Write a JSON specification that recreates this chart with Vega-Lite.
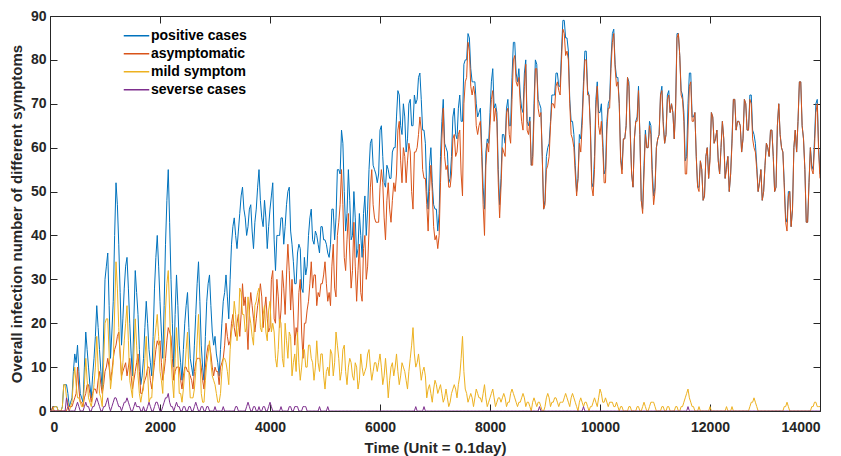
{
"$schema": "https://vega.github.io/schema/vega-lite/v6.json",
"width": 770, "height": 395,
"autosize": {"type": "none"},
"padding": {"left": 50, "top": 16, "right": 21, "bottom": 45},
"background": "white",
"config": {"view": {"stroke": "#262626", "strokeWidth": 1},
 "axis": {"grid": false, "domain": false, "ticks": true, "zindex": 1, "labelFont": "Liberation Sans", "labelFontWeight": "bold", "labelFontSize": 14, "labelColor": "#262626", "titleFont": "Liberation Sans", "titleFontWeight": "bold", "titleFontSize": 15, "titleColor": "#262626", "tickColor": "#262626", "tickWidth": 1, "tickSize": 7, "offset": -7, "format": "d"}},
"data": {"values": [
{"t":0,"p":0,"a":0,"m":0,"s":0},{"t":50,"p":1,"a":1,"m":0,"s":0},{"t":100,"p":1,"a":0,"m":1,"s":0},{"t":150,"p":0,"a":0,"m":0,"s":0},{"t":200,"p":0,"a":0,"m":0,"s":0},
{"t":250,"p":6,"a":0,"m":6,"s":0},{"t":300,"p":6,"a":0,"m":3,"s":3},{"t":350,"p":1,"a":1,"m":0,"s":0},{"t":400,"p":3,"a":1,"m":2,"s":0},{"t":450,"p":13,"a":3,"m":10,"s":0},
{"t":500,"p":15,"a":10,"m":3,"s":2},{"t":550,"p":4,"a":2,"m":2,"s":0},{"t":600,"p":2,"a":1,"m":1,"s":0},{"t":650,"p":18,"a":4,"m":12,"s":2},{"t":700,"p":10,"a":6,"m":3,"s":1},
{"t":750,"p":3,"a":2,"m":1,"s":0},{"t":800,"p":12,"a":5,"m":6,"s":1},{"t":850,"p":24,"a":4,"m":17,"s":3},{"t":900,"p":14,"a":9,"m":4,"s":1},{"t":950,"p":5,"a":4,"m":1,"s":0},
{"t":1000,"p":30,"a":9,"m":20,"s":1},{"t":1050,"p":36,"a":12,"m":21,"s":3},{"t":1100,"p":12,"a":7,"m":5,"s":0},{"t":1150,"p":25,"a":12,"m":11,"s":2},{"t":1200,"p":52,"a":15,"m":34,"s":3},
{"t":1250,"p":38,"a":18,"m":19,"s":1},{"t":1300,"p":15,"a":8,"m":7,"s":0},{"t":1350,"p":28,"a":10,"m":16,"s":2},{"t":1400,"p":35,"a":8,"m":24,"s":3},{"t":1450,"p":20,"a":12,"m":7,"s":1},
{"t":1500,"p":8,"a":5,"m":3,"s":0},{"t":1550,"p":32,"a":9,"m":21,"s":2},{"t":1600,"p":22,"a":13,"m":8,"s":1},{"t":1650,"p":6,"a":4,"m":2,"s":0},{"t":1700,"p":12,"a":6,"m":5,"s":1},
{"t":1750,"p":25,"a":8,"m":17,"s":0},{"t":1800,"p":14,"a":10,"m":2,"s":2},{"t":1850,"p":8,"a":5,"m":3,"s":0},{"t":1900,"p":28,"a":11,"m":16,"s":1},{"t":1950,"p":40,"a":16,"m":22,"s":2},
{"t":2000,"p":25,"a":16,"m":9,"s":0},{"t":2050,"p":12,"a":7,"m":4,"s":1},{"t":2100,"p":38,"a":12,"m":23,"s":3},{"t":2150,"p":55,"a":19,"m":32,"s":4},{"t":2200,"p":30,"a":17,"m":12,"s":1},
{"t":2250,"p":10,"a":7,"m":3,"s":0},{"t":2300,"p":31,"a":10,"m":19,"s":2},{"t":2350,"p":15,"a":10,"m":4,"s":1},{"t":2400,"p":7,"a":5,"m":2,"s":0},{"t":2450,"p":20,"a":10,"m":9,"s":1},
{"t":2500,"p":27,"a":9,"m":18,"s":0},{"t":2550,"p":12,"a":8,"m":3,"s":1},{"t":2600,"p":8,"a":5,"m":3,"s":0},{"t":2650,"p":22,"a":11,"m":9,"s":2},{"t":2700,"p":34,"a":12,"m":22,"s":0},
{"t":2750,"p":15,"a":10,"m":4,"s":1},{"t":2800,"p":7,"a":5,"m":2,"s":0},{"t":2850,"p":25,"a":13,"m":11,"s":1},{"t":2900,"p":31,"a":15,"m":16,"s":0},{"t":2950,"p":18,"a":10,"m":8,"s":0},
{"t":3000,"p":17,"a":10,"m":6,"s":1},{"t":3050,"p":11,"a":9,"m":2,"s":0},{"t":3100,"p":14,"a":10,"m":4,"s":0},{"t":3150,"p":25,"a":12,"m":12,"s":1},{"t":3200,"p":31,"a":20,"m":11,"s":0},
{"t":3250,"p":21,"a":15,"m":6,"s":0},{"t":3300,"p":38,"a":20,"m":18,"s":0},{"t":3350,"p":44,"a":19,"m":25,"s":0},{"t":3400,"p":37,"a":20,"m":16,"s":1},{"t":3450,"p":45,"a":17,"m":28,"s":0},
{"t":3500,"p":51,"a":29,"m":22,"s":0},{"t":3550,"p":44,"a":26,"m":18,"s":0},{"t":3600,"p":42,"a":14,"m":26,"s":2},{"t":3650,"p":47,"a":27,"m":20,"s":0},{"t":3700,"p":37,"a":21,"m":15,"s":1},
{"t":3750,"p":46,"a":21,"m":25,"s":0},{"t":3800,"p":55,"a":26,"m":28,"s":1},{"t":3850,"p":44,"a":26,"m":18,"s":0},{"t":3900,"p":48,"a":23,"m":24,"s":1},{"t":3950,"p":37,"a":21,"m":16,"s":0},
{"t":4000,"p":46,"a":19,"m":25,"s":2},{"t":4050,"p":52,"a":32,"m":20,"s":0},{"t":4100,"p":32,"a":20,"m":12,"s":0},{"t":4150,"p":40,"a":26,"m":14,"s":0},{"t":4200,"p":44,"a":23,"m":20,"s":1},
{"t":4250,"p":38,"a":28,"m":10,"s":0},{"t":4300,"p":47,"a":31,"m":16,"s":0},{"t":4350,"p":51,"a":32,"m":18,"s":1},{"t":4400,"p":38,"a":30,"m":8,"s":0},{"t":4450,"p":29,"a":15,"m":13,"s":1},
{"t":4500,"p":36,"a":17,"m":18,"s":1},{"t":4550,"p":37,"a":30,"m":7,"s":0},{"t":4600,"p":27,"a":12,"m":14,"s":1},{"t":4650,"p":31,"a":20,"m":10,"s":1},{"t":4700,"p":40,"a":25,"m":15,"s":0},
{"t":4750,"p":46,"a":34,"m":12,"s":0},{"t":4800,"p":38,"a":31,"m":7,"s":0},{"t":4850,"p":40,"a":24,"m":16,"s":0},{"t":4900,"p":36,"a":26,"m":9,"s":1},{"t":4950,"p":42,"a":29,"m":13,"s":0},
{"t":5000,"p":39,"a":34,"m":5,"s":0},{"t":5050,"p":36,"a":25,"m":10,"s":1},{"t":5100,"p":38,"a":24,"m":14,"s":0},{"t":5150,"p":46,"a":38,"m":8,"s":0},{"t":5200,"p":44,"a":26,"m":18,"s":0},
{"t":5250,"p":55,"a":43,"m":12,"s":0},{"t":5300,"p":64,"a":55,"m":9,"s":0},{"t":5350,"p":50,"a":35,"m":15,"s":0},{"t":5400,"p":45,"a":39,"m":6,"s":0},{"t":5450,"p":48,"a":36,"m":12,"s":0},
{"t":5500,"p":40,"a":32,"m":8,"s":0},{"t":5550,"p":44,"a":33,"m":11,"s":0},{"t":5600,"p":37,"a":32,"m":5,"s":0},{"t":5650,"p":40,"a":27,"m":13,"s":0},{"t":5700,"p":45,"a":37,"m":8,"s":0},
{"t":5750,"p":40,"a":30,"m":10,"s":0},{"t":5800,"p":55,"a":41,"m":14,"s":0},{"t":5850,"p":62,"a":55,"m":7,"s":0},{"t":5900,"p":55,"a":44,"m":11,"s":0},{"t":5950,"p":52,"a":43,"m":9,"s":0},
{"t":6000,"p":64,"a":51,"m":13,"s":0},{"t":6050,"p":58,"a":52,"m":6,"s":0},{"t":6100,"p":51,"a":39,"m":12,"s":0},{"t":6150,"p":55,"a":52,"m":3,"s":0},{"t":6200,"p":53,"a":43,"m":10,"s":0},
{"t":6250,"p":60,"a":52,"m":8,"s":0},{"t":6300,"p":67,"a":54,"m":13,"s":0},{"t":6350,"p":72,"a":66,"m":6,"s":0},{"t":6400,"p":63,"a":52,"m":11,"s":0},{"t":6450,"p":67,"a":58,"m":9,"s":0},
{"t":6500,"p":62,"a":57,"m":5,"s":0},{"t":6550,"p":71,"a":59,"m":12,"s":0},{"t":6600,"p":65,"a":46,"m":19,"s":0},{"t":6650,"p":70,"a":59,"m":10,"s":1},{"t":6700,"p":76,"a":63,"m":13,"s":0},
{"t":6750,"p":71,"a":64,"m":7,"s":0},{"t":6800,"p":64,"a":53,"m":10,"s":1},{"t":6850,"p":50,"a":47,"m":3,"s":0},{"t":6900,"p":56,"a":50,"m":6,"s":0},{"t":6950,"p":52,"a":50,"m":2,"s":0},
{"t":7000,"p":46,"a":39,"m":7,"s":0},{"t":7050,"p":41,"a":37,"m":4,"s":0},{"t":7100,"p":58,"a":52,"m":6,"s":0},{"t":7150,"p":71,"a":69,"m":2,"s":0},{"t":7200,"p":60,"a":55,"m":5,"s":0},
{"t":7250,"p":52,"a":51,"m":1,"s":0},{"t":7300,"p":58,"a":54,"m":4,"s":0},{"t":7350,"p":69,"a":63,"m":6,"s":0},{"t":7400,"p":62,"a":59,"m":3,"s":0},{"t":7450,"p":72,"a":64,"m":8,"s":0},
{"t":7500,"p":66,"a":49,"m":17,"s":0},{"t":7550,"p":80,"a":75,"m":5,"s":0},{"t":7600,"p":86,"a":84,"m":2,"s":0},{"t":7650,"p":78,"a":74,"m":4,"s":0},{"t":7700,"p":75,"a":74,"m":1,"s":0},
{"t":7750,"p":70,"a":65,"m":5,"s":0},{"t":7800,"p":68,"a":65,"m":3,"s":0},{"t":7850,"p":60,"a":58,"m":2,"s":0},{"t":7900,"p":46,"a":40,"m":6,"s":0},{"t":7950,"p":62,"a":61,"m":1,"s":0},
{"t":8000,"p":68,"a":65,"m":3,"s":0},{"t":8050,"p":78,"a":73,"m":5,"s":0},{"t":8100,"p":70,"a":69,"m":1,"s":0},{"t":8150,"p":55,"a":52,"m":3,"s":0},{"t":8200,"p":53,"a":51,"m":2,"s":0},
{"t":8250,"p":63,"a":59,"m":4,"s":0},{"t":8300,"p":69,"a":68,"m":1,"s":0},{"t":8350,"p":65,"a":63,"m":2,"s":0},{"t":8400,"p":76,"a":71,"m":5,"s":0},{"t":8450,"p":84,"a":81,"m":3,"s":0},
{"t":8500,"p":75,"a":74,"m":1,"s":0},{"t":8550,"p":72,"a":70,"m":2,"s":0},{"t":8600,"p":68,"a":64,"m":4,"s":0},{"t":8650,"p":80,"a":79,"m":1,"s":0},{"t":8700,"p":65,"a":63,"m":2,"s":0},
{"t":8750,"p":56,"a":56,"m":0,"s":0},{"t":8800,"p":70,"a":67,"m":3,"s":0},{"t":8850,"p":79,"a":78,"m":1,"s":0},{"t":8900,"p":70,"a":67,"m":2,"s":1},{"t":8950,"p":58,"a":58,"m":0,"s":0},
{"t":9000,"p":48,"a":47,"m":1,"s":0},{"t":9050,"p":60,"a":56,"m":4,"s":0},{"t":9100,"p":66,"a":65,"m":1,"s":0},{"t":9150,"p":72,"a":70,"m":2,"s":0},{"t":9200,"p":77,"a":74,"m":3,"s":0},
{"t":9250,"p":74,"a":73,"m":1,"s":0},{"t":9300,"p":82,"a":80,"m":2,"s":0},{"t":9350,"p":89,"a":86,"m":3,"s":0},{"t":9400,"p":85,"a":82,"m":3,"s":0},{"t":9450,"p":71,"a":70,"m":1,"s":0},
{"t":9500,"p":66,"a":62,"m":4,"s":0},{"t":9550,"p":56,"a":54,"m":2,"s":0},{"t":9600,"p":53,"a":53,"m":0,"s":0},{"t":9650,"p":62,"a":59,"m":3,"s":0},{"t":9700,"p":75,"a":73,"m":1,"s":1},
{"t":9750,"p":82,"a":80,"m":2,"s":0},{"t":9800,"p":72,"a":72,"m":0,"s":0},{"t":9850,"p":52,"a":51,"m":1,"s":0},{"t":9900,"p":58,"a":55,"m":3,"s":0},{"t":9950,"p":75,"a":74,"m":1,"s":0},
{"t":10000,"p":68,"a":63,"m":5,"s":0},{"t":10050,"p":62,"a":60,"m":2,"s":0},{"t":10100,"p":55,"a":52,"m":3,"s":0},{"t":10150,"p":70,"a":69,"m":1,"s":0},{"t":10200,"p":80,"a":78,"m":2,"s":0},
{"t":10250,"p":87,"a":86,"m":1,"s":0},{"t":10300,"p":76,"a":74,"m":2,"s":0},{"t":10350,"p":70,"a":70,"m":0,"s":0},{"t":10400,"p":55,"a":54,"m":1,"s":0},{"t":10450,"p":62,"a":62,"m":0,"s":0},
{"t":10500,"p":76,"a":76,"m":0,"s":0},{"t":10550,"p":64,"a":63,"m":1,"s":0},{"t":10600,"p":51,"a":51,"m":0,"s":0},{"t":10650,"p":66,"a":66,"m":0,"s":0},{"t":10700,"p":74,"a":73,"m":1,"s":0},
{"t":10750,"p":48,"a":48,"m":0,"s":0},{"t":10800,"p":56,"a":54,"m":2,"s":0},{"t":10850,"p":60,"a":60,"m":0,"s":0},{"t":10900,"p":66,"a":65,"m":1,"s":0},{"t":10950,"p":55,"a":53,"m":2,"s":0},
{"t":11000,"p":51,"a":50,"m":1,"s":0},{"t":11050,"p":62,"a":62,"m":0,"s":0},{"t":11100,"p":72,"a":72,"m":0,"s":0},{"t":11150,"p":66,"a":65,"m":1,"s":0},{"t":11200,"p":63,"a":63,"m":0,"s":0},
{"t":11250,"p":73,"a":72,"m":1,"s":0},{"t":11300,"p":70,"a":70,"m":0,"s":0},{"t":11350,"p":62,"a":62,"m":0,"s":0},{"t":11400,"p":86,"a":85,"m":1,"s":0},{"t":11450,"p":81,"a":81,"m":0,"s":0},
{"t":11500,"p":72,"a":71,"m":1,"s":0},{"t":11550,"p":57,"a":54,"m":3,"s":0},{"t":11600,"p":70,"a":64,"m":5,"s":1},{"t":11650,"p":77,"a":75,"m":2,"s":0},{"t":11700,"p":67,"a":66,"m":1,"s":0},
{"t":11750,"p":58,"a":58,"m":0,"s":0},{"t":11800,"p":51,"a":50,"m":1,"s":0},{"t":11850,"p":55,"a":55,"m":0,"s":0},{"t":11900,"p":49,"a":49,"m":0,"s":0},{"t":11950,"p":60,"a":60,"m":0,"s":0},
{"t":12000,"p":58,"a":57,"m":1,"s":0},{"t":12050,"p":67,"a":67,"m":0,"s":0},{"t":12100,"p":62,"a":62,"m":0,"s":0},{"t":12150,"p":57,"a":57,"m":0,"s":0},{"t":12200,"p":60,"a":60,"m":0,"s":0},
{"t":12250,"p":62,"a":62,"m":0,"s":0},{"t":12300,"p":56,"a":55,"m":1,"s":0},{"t":12350,"p":50,"a":50,"m":0,"s":0},{"t":12400,"p":62,"a":61,"m":1,"s":0},{"t":12450,"p":71,"a":71,"m":0,"s":0},
{"t":12500,"p":66,"a":66,"m":0,"s":0},{"t":12550,"p":65,"a":65,"m":0,"s":0},{"t":12600,"p":62,"a":62,"m":0,"s":0},{"t":12650,"p":70,"a":70,"m":0,"s":0},{"t":12700,"p":64,"a":64,"m":0,"s":0},
{"t":12750,"p":72,"a":70,"m":2,"s":0},{"t":12800,"p":63,"a":60,"m":3,"s":0},{"t":12850,"p":56,"a":55,"m":1,"s":0},{"t":12900,"p":52,"a":52,"m":0,"s":0},{"t":12950,"p":48,"a":48,"m":0,"s":0},
{"t":13000,"p":56,"a":56,"m":0,"s":0},{"t":13050,"p":60,"a":60,"m":0,"s":0},{"t":13100,"p":64,"a":64,"m":0,"s":0},{"t":13150,"p":58,"a":58,"m":0,"s":0},{"t":13200,"p":51,"a":51,"m":0,"s":0},
{"t":13250,"p":70,"a":70,"m":0,"s":0},{"t":13300,"p":60,"a":60,"m":0,"s":0},{"t":13350,"p":52,"a":51,"m":1,"s":0},{"t":13400,"p":43,"a":41,"m":2,"s":0},{"t":13450,"p":50,"a":50,"m":0,"s":0},
{"t":13500,"p":46,"a":46,"m":0,"s":0},{"t":13550,"p":64,"a":64,"m":0,"s":0},{"t":13600,"p":66,"a":66,"m":0,"s":0},{"t":13650,"p":75,"a":75,"m":0,"s":0},{"t":13700,"p":62,"a":62,"m":0,"s":0},
{"t":13750,"p":43,"a":43,"m":0,"s":0},{"t":13800,"p":52,"a":52,"m":0,"s":0},{"t":13850,"p":56,"a":55,"m":1,"s":0},{"t":13900,"p":62,"a":60,"m":2,"s":0},{"t":13950,"p":71,"a":70,"m":1,"s":0},
{"t":14000,"p":54,"a":53,"m":1,"s":0},
{"t":25,"p":0,"a":0,"m":0,"s":0},{"t":75,"p":1,"a":0,"m":1,"s":0},{"t":125,"p":1,"a":0,"m":1,"s":0},{"t":175,"p":0,"a":0,"m":0,"s":0},{"t":225,"p":1,"a":0,"m":1,"s":0},
{"t":275,"p":6,"a":0,"m":6,"s":0},{"t":325,"p":4,"a":1,"m":2,"s":1},{"t":375,"p":2,"a":1,"m":1,"s":0},{"t":425,"p":9,"a":2,"m":7,"s":0},{"t":475,"p":11,"a":4,"m":6,"s":1},
{"t":525,"p":9,"a":5,"m":3,"s":1},{"t":575,"p":3,"a":2,"m":1,"s":0},{"t":625,"p":10,"a":3,"m":6,"s":1},{"t":675,"p":14,"a":6,"m":7,"s":1},{"t":725,"p":6,"a":4,"m":2,"s":0},
{"t":775,"p":8,"a":4,"m":3,"s":1},{"t":825,"p":17,"a":5,"m":10,"s":2},{"t":875,"p":19,"a":7,"m":10,"s":2},{"t":925,"p":9,"a":6,"m":3,"s":0},{"t":975,"p":18,"a":6,"m":11,"s":1},
{"t":1025,"p":33,"a":10,"m":21,"s":2},{"t":1075,"p":24,"a":10,"m":13,"s":1},{"t":1125,"p":18,"a":9,"m":8,"s":1},{"t":1175,"p":40,"a":14,"m":23,"s":3},{"t":1225,"p":47,"a":17,"m":28,"s":2},
{"t":1275,"p":27,"a":13,"m":13,"s":1},{"t":1325,"p":21,"a":9,"m":11,"s":1},{"t":1375,"p":33,"a":11,"m":20,"s":2},{"t":1425,"p":28,"a":10,"m":16,"s":2},{"t":1475,"p":13,"a":8,"m":5,"s":0},
{"t":1525,"p":21,"a":7,"m":13,"s":1},{"t":1575,"p":27,"a":11,"m":15,"s":1},{"t":1625,"p":14,"a":9,"m":4,"s":1},{"t":1675,"p":8,"a":4,"m":4,"s":0},{"t":1725,"p":19,"a":7,"m":12,"s":0},
{"t":1775,"p":20,"a":10,"m":9,"s":1},{"t":1825,"p":11,"a":7,"m":3,"s":1},{"t":1875,"p":17,"a":8,"m":9,"s":0},{"t":1925,"p":35,"a":14,"m":19,"s":2},{"t":1975,"p":33,"a":15,"m":17,"s":1},
{"t":2025,"p":18,"a":11,"m":7,"s":0},{"t":2075,"p":24,"a":9,"m":13,"s":2},{"t":2125,"p":48,"a":16,"m":29,"s":3},{"t":2175,"p":43,"a":18,"m":23,"s":2},{"t":2225,"p":20,"a":12,"m":7,"s":1},
{"t":2275,"p":22,"a":9,"m":12,"s":1},{"t":2325,"p":24,"a":10,"m":13,"s":1},{"t":2375,"p":11,"a":7,"m":4,"s":0},{"t":2425,"p":14,"a":8,"m":5,"s":1},{"t":2475,"p":24,"a":10,"m":14,"s":0},
{"t":2525,"p":19,"a":9,"m":9,"s":1},{"t":2575,"p":10,"a":7,"m":3,"s":0},{"t":2625,"p":15,"a":9,"m":5,"s":1},{"t":2675,"p":29,"a":12,"m":16,"s":1},{"t":2725,"p":25,"a":12,"m":13,"s":0},
{"t":2775,"p":10,"a":7,"m":2,"s":1},{"t":2825,"p":17,"a":10,"m":7,"s":0},{"t":2875,"p":29,"a":15,"m":13,"s":1},{"t":2925,"p":24,"a":13,"m":11,"s":0},{"t":2975,"p":15,"a":8,"m":7,"s":0},
{"t":3025,"p":13,"a":9,"m":4,"s":0},{"t":3075,"p":8,"a":6,"m":2,"s":0},{"t":3125,"p":20,"a":11,"m":9,"s":0},{"t":3175,"p":27,"a":15,"m":12,"s":0},{"t":3225,"p":26,"a":17,"m":9,"s":0},
{"t":3275,"p":30,"a":16,"m":14,"s":0},{"t":3325,"p":42,"a":22,"m":20,"s":0},{"t":3375,"p":40,"a":17,"m":22,"s":1},{"t":3425,"p":41,"a":22,"m":19,"s":0},{"t":3475,"p":49,"a":22,"m":27,"s":0},
{"t":3525,"p":46,"a":24,"m":22,"s":0},{"t":3575,"p":40,"a":20,"m":19,"s":1},{"t":3625,"p":46,"a":23,"m":22,"s":1},{"t":3675,"p":41,"a":24,"m":17,"s":0},{"t":3725,"p":43,"a":18,"m":24,"s":1},
{"t":3775,"p":51,"a":24,"m":27,"s":0},{"t":3825,"p":48,"a":29,"m":19,"s":0},{"t":3875,"p":42,"a":19,"m":22,"s":1},{"t":3925,"p":44,"a":26,"m":18,"s":0},{"t":3975,"p":42,"a":18,"m":23,"s":1},
{"t":4025,"p":49,"a":30,"m":18,"s":1},{"t":4075,"p":39,"a":21,"m":18,"s":0},{"t":4125,"p":40,"a":30,"m":10,"s":0},{"t":4175,"p":40,"a":19,"m":21,"s":0},{"t":4225,"p":44,"a":32,"m":12,"s":0},
{"t":4275,"p":42,"a":22,"m":20,"s":0},{"t":4325,"p":50,"a":38,"m":12,"s":0},{"t":4375,"p":41,"a":23,"m":17,"s":1},{"t":4425,"p":34,"a":23,"m":11,"s":0},{"t":4475,"p":29,"a":19,"m":9,"s":1},
{"t":4525,"p":38,"a":27,"m":11,"s":0},{"t":4575,"p":28,"a":18,"m":10,"s":0},{"t":4625,"p":35,"a":20,"m":14,"s":1},{"t":4675,"p":33,"a":23,"m":10,"s":0},{"t":4725,"p":44,"a":29,"m":15,"s":0},
{"t":4775,"p":39,"a":28,"m":11,"s":0},{"t":4825,"p":41,"a":31,"m":10,"s":0},{"t":4875,"p":38,"a":27,"m":11,"s":0},{"t":4925,"p":42,"a":29,"m":13,"s":0},{"t":4975,"p":39,"a":31,"m":8,"s":0},
{"t":5025,"p":38,"a":29,"m":9,"s":0},{"t":5075,"p":35,"a":27,"m":8,"s":0},{"t":5125,"p":46,"a":33,"m":13,"s":0},{"t":5175,"p":39,"a":28,"m":11,"s":0},{"t":5225,"p":55,"a":40,"m":15,"s":0},
{"t":5275,"p":54,"a":47,"m":7,"s":0},{"t":5325,"p":61,"a":47,"m":14,"s":0},{"t":5375,"p":41,"a":32,"m":9,"s":0},{"t":5425,"p":55,"a":45,"m":10,"s":0},{"t":5475,"p":39,"a":28,"m":11,"s":0},
{"t":5525,"p":50,"a":43,"m":7,"s":0},{"t":5575,"p":35,"a":25,"m":10,"s":0},{"t":5625,"p":45,"a":38,"m":7,"s":0},{"t":5675,"p":35,"a":25,"m":10,"s":0},{"t":5725,"p":49,"a":40,"m":9,"s":0},
{"t":5775,"p":46,"a":33,"m":13,"s":0},{"t":5825,"p":61,"a":51,"m":10,"s":0},{"t":5875,"p":56,"a":47,"m":9,"s":0},{"t":5925,"p":54,"a":43,"m":11,"s":0},{"t":5975,"p":54,"a":43,"m":11,"s":0},
{"t":6025,"p":65,"a":55,"m":10,"s":0},{"t":6075,"p":52,"a":44,"m":8,"s":0},{"t":6125,"p":56,"a":48,"m":8,"s":0},{"t":6175,"p":53,"a":46,"m":7,"s":0},{"t":6225,"p":59,"a":48,"m":11,"s":0},
{"t":6275,"p":60,"a":50,"m":10,"s":0},{"t":6325,"p":73,"a":64,"m":9,"s":0},{"t":6375,"p":65,"a":57,"m":8,"s":0},{"t":6425,"p":70,"a":60,"m":10,"s":0},{"t":6475,"p":59,"a":52,"m":7,"s":0},
{"t":6525,"p":70,"a":61,"m":9,"s":0},{"t":6575,"p":65,"a":50,"m":15,"s":0},{"t":6625,"p":72,"a":59,"m":13,"s":0},{"t":6675,"p":71,"a":60,"m":11,"s":0},{"t":6725,"p":77,"a":67,"m":10,"s":0},
{"t":6775,"p":64,"a":55,"m":9,"s":0},{"t":6825,"p":61,"a":53,"m":8,"s":0},{"t":6875,"p":46,"a":41,"m":5,"s":0},{"t":6925,"p":60,"a":56,"m":4,"s":0},{"t":6975,"p":47,"a":42,"m":5,"s":0},
{"t":7025,"p":46,"a":40,"m":6,"s":0},{"t":7075,"p":45,"a":40,"m":5,"s":0},{"t":7125,"p":66,"a":62,"m":4,"s":0},{"t":7175,"p":61,"a":58,"m":3,"s":0},{"t":7225,"p":59,"a":56,"m":3,"s":0},
{"t":7275,"p":53,"a":51,"m":2,"s":0},{"t":7325,"p":67,"a":62,"m":5,"s":0},{"t":7375,"p":63,"a":58,"m":5,"s":0},{"t":7425,"p":69,"a":63,"m":6,"s":0},{"t":7475,"p":66,"a":54,"m":12,"s":0},
{"t":7525,"p":79,"a":70,"m":9,"s":0},{"t":7575,"p":80,"a":76,"m":4,"s":0},{"t":7625,"p":85,"a":82,"m":3,"s":0},{"t":7675,"p":75,"a":72,"m":3,"s":0},{"t":7725,"p":75,"a":72,"m":3,"s":0},
{"t":7775,"p":67,"a":63,"m":4,"s":0},{"t":7825,"p":69,"a":66,"m":3,"s":0},{"t":7875,"p":51,"a":47,"m":4,"s":0},{"t":7925,"p":59,"a":56,"m":3,"s":0},{"t":7975,"p":61,"a":59,"m":2,"s":0},
{"t":8025,"p":75,"a":71,"m":4,"s":0},{"t":8075,"p":69,"a":66,"m":3,"s":0},{"t":8125,"p":68,"a":66,"m":2,"s":0},{"t":8175,"p":47,"a":44,"m":3,"s":0},{"t":8225,"p":63,"a":60,"m":3,"s":0},
{"t":8275,"p":61,"a":58,"m":3,"s":0},{"t":8325,"p":71,"a":69,"m":2,"s":0},{"t":8375,"p":65,"a":61,"m":4,"s":0},{"t":8425,"p":84,"a":80,"m":4,"s":0},{"t":8475,"p":77,"a":75,"m":2,"s":0},
{"t":8525,"p":78,"a":76,"m":2,"s":0},{"t":8575,"p":69,"a":66,"m":3,"s":0},{"t":8625,"p":77,"a":74,"m":3,"s":0},{"t":8675,"p":66,"a":64,"m":2,"s":0},{"t":8725,"p":67,"a":66,"m":1,"s":0},
{"t":8775,"p":58,"a":56,"m":2,"s":0},{"t":8825,"p":80,"a":78,"m":2,"s":0},{"t":8875,"p":71,"a":69,"m":2,"s":0},{"t":8925,"p":69,"a":68,"m":1,"s":0},{"t":8975,"p":46,"a":46,"m":0,"s":0},
{"t":9025,"p":58,"a":55,"m":3,"s":0},{"t":9075,"p":61,"a":58,"m":3,"s":0},{"t":9125,"p":72,"a":70,"m":2,"s":0},{"t":9175,"p":72,"a":69,"m":3,"s":0},{"t":9225,"p":77,"a":75,"m":2,"s":0},
{"t":9275,"p":74,"a":72,"m":2,"s":0},{"t":9325,"p":89,"a":87,"m":2,"s":0},{"t":9375,"p":85,"a":81,"m":4,"s":0},{"t":9425,"p":82,"a":80,"m":2,"s":0},{"t":9475,"p":66,"a":63,"m":3,"s":0},
{"t":9525,"p":63,"a":60,"m":3,"s":0},{"t":9575,"p":50,"a":49,"m":1,"s":0},{"t":9625,"p":63,"a":61,"m":2,"s":0},{"t":9675,"p":67,"a":65,"m":2,"s":0},{"t":9725,"p":82,"a":80,"m":2,"s":0},
{"t":9775,"p":73,"a":72,"m":1,"s":0},{"t":9825,"p":65,"a":64,"m":1,"s":0},{"t":9875,"p":51,"a":49,"m":2,"s":0},{"t":9925,"p":71,"a":69,"m":2,"s":0},{"t":9975,"p":68,"a":65,"m":3,"s":0},
{"t":10025,"p":70,"a":66,"m":4,"s":0},{"t":10075,"p":54,"a":52,"m":2,"s":0},{"t":10125,"p":66,"a":64,"m":2,"s":0},{"t":10175,"p":71,"a":69,"m":2,"s":0},{"t":10225,"p":86,"a":84,"m":2,"s":0},
{"t":10275,"p":79,"a":78,"m":1,"s":0},{"t":10325,"p":76,"a":75,"m":1,"s":0},{"t":10375,"p":58,"a":57,"m":1,"s":0},{"t":10425,"p":62,"a":62,"m":0,"s":0},{"t":10475,"p":65,"a":65,"m":0,"s":0},
{"t":10525,"p":75,"a":74,"m":1,"s":0},{"t":10575,"p":54,"a":54,"m":0,"s":0},{"t":10625,"p":62,"a":62,"m":0,"s":0},{"t":10675,"p":67,"a":66,"m":1,"s":0},{"t":10725,"p":63,"a":63,"m":0,"s":0},
{"t":10775,"p":46,"a":45,"m":1,"s":0},{"t":10825,"p":64,"a":63,"m":1,"s":0},{"t":10875,"p":60,"a":60,"m":0,"s":0},{"t":10925,"p":65,"a":63,"m":2,"s":0},{"t":10975,"p":49,"a":47,"m":2,"s":0},
{"t":11025,"p":60,"a":60,"m":0,"s":0},{"t":11075,"p":63,"a":63,"m":0,"s":0},{"t":11125,"p":74,"a":73,"m":1,"s":0},{"t":11175,"p":61,"a":61,"m":0,"s":0},{"t":11225,"p":72,"a":71,"m":1,"s":0},
{"t":11275,"p":68,"a":68,"m":0,"s":0},{"t":11325,"p":68,"a":68,"m":0,"s":0},{"t":11375,"p":70,"a":69,"m":1,"s":0},{"t":11425,"p":86,"a":86,"m":0,"s":0},{"t":11475,"p":73,"a":72,"m":1,"s":0},
{"t":11525,"p":68,"a":66,"m":2,"s":0},{"t":11575,"p":58,"a":54,"m":4,"s":0},{"t":11625,"p":77,"a":74,"m":3,"s":0},{"t":11675,"p":67,"a":66,"m":1,"s":0},{"t":11725,"p":68,"a":68,"m":0,"s":0},
{"t":11775,"p":51,"a":51,"m":0,"s":0},{"t":11825,"p":57,"a":57,"m":0,"s":0},{"t":11875,"p":48,"a":48,"m":0,"s":0},{"t":11925,"p":58,"a":58,"m":0,"s":0},{"t":11975,"p":53,"a":53,"m":0,"s":0},
{"t":12025,"p":68,"a":68,"m":0,"s":0},{"t":12075,"p":61,"a":61,"m":0,"s":0},{"t":12125,"p":64,"a":64,"m":0,"s":0},{"t":12175,"p":54,"a":54,"m":0,"s":0},{"t":12225,"p":66,"a":66,"m":0,"s":0},
{"t":12275,"p":53,"a":53,"m":0,"s":0},{"t":12325,"p":58,"a":58,"m":0,"s":0},{"t":12375,"p":54,"a":54,"m":0,"s":0},{"t":12425,"p":71,"a":71,"m":0,"s":0},{"t":12475,"p":64,"a":64,"m":0,"s":0},
{"t":12525,"p":66,"a":66,"m":0,"s":0},{"t":12575,"p":59,"a":59,"m":0,"s":0},{"t":12625,"p":71,"a":71,"m":0,"s":0},{"t":12675,"p":64,"a":64,"m":0,"s":0},{"t":12725,"p":72,"a":71,"m":1,"s":0},
{"t":12775,"p":64,"a":62,"m":2,"s":0},{"t":12825,"p":61,"a":59,"m":2,"s":0},{"t":12875,"p":50,"a":50,"m":0,"s":0},{"t":12925,"p":55,"a":55,"m":0,"s":0},{"t":12975,"p":50,"a":50,"m":0,"s":0},
{"t":13025,"p":61,"a":61,"m":0,"s":0},{"t":13075,"p":58,"a":58,"m":0,"s":0},{"t":13125,"p":64,"a":64,"m":0,"s":0},{"t":13175,"p":50,"a":50,"m":0,"s":0},{"t":13225,"p":65,"a":65,"m":0,"s":0},
{"t":13275,"p":63,"a":63,"m":0,"s":0},{"t":13325,"p":59,"a":59,"m":0,"s":0},{"t":13375,"p":44,"a":43,"m":1,"s":0},{"t":13425,"p":50,"a":49,"m":1,"s":0},{"t":13475,"p":42,"a":42,"m":0,"s":0},
{"t":13525,"p":60,"a":60,"m":0,"s":0},{"t":13575,"p":59,"a":59,"m":0,"s":0},{"t":13625,"p":75,"a":75,"m":0,"s":0},{"t":13675,"p":65,"a":65,"m":0,"s":0},{"t":13725,"p":55,"a":55,"m":0,"s":0},
{"t":13775,"p":43,"a":43,"m":0,"s":0},{"t":13825,"p":60,"a":60,"m":0,"s":0},{"t":13875,"p":55,"a":54,"m":1,"s":0},{"t":13925,"p":70,"a":68,"m":2,"s":0},{"t":13975,"p":60,"a":59,"m":1,"s":0}
]},
"layer": [
 {"mark": {"type": "line", "strokeWidth": 1, "clip": true},
  "encoding": {
   "x": {"field": "t", "type": "quantitative", "scale": {"domain": [0, 14000], "nice": false}, "axis": {"values": [0,2000,4000,6000,8000,10000,12000,14000], "title": "Time (Unit = 0.1day)", "labelPadding": 9, "titlePadding": 6}},
   "y": {"field": "p", "type": "quantitative", "scale": {"domain": [0, 90], "nice": false}, "axis": {"values": [0,10,20,30,40,50,60,70,80,90], "title": "Overall infection number of different symptoms", "labelPadding": 4, "titlePadding": 6}},
   "color": {"datum": "positive cases", "type": "nominal",
     "scale": {"domain": ["positive cases", "asymptomatic", "mild symptom", "severse cases"], "range": ["#0072BD", "#D95319", "#EDB120", "#7E2F8E"]},
     "legend": {"title": null, "orient": "none", "legendX": 73, "legendY": 11, "symbolType": "stroke", "symbolSize": 650, "symbolStrokeWidth": 1.5, "labelFont": "Liberation Sans", "labelFontWeight": "bold", "labelFontSize": 14, "labelColor": "#000000", "rowPadding": 0, "padding": 0, "labelOffset": 1, "clipHeight": 17.7}}
  }},
 {"mark": {"type": "line", "strokeWidth": 1, "clip": true},
  "encoding": {
   "x": {"field": "t", "type": "quantitative", "axis": {"orient": "top", "values": [0,2000,4000,6000,8000,10000,12000,14000], "labels": false, "title": null}},
   "y": {"field": "a", "type": "quantitative", "axis": {"orient": "right", "values": [0,10,20,30,40,50,60,70,80,90], "labels": false, "title": null}},
   "color": {"datum": "asymptomatic", "type": "nominal"}
  }},
 {"mark": {"type": "line", "strokeWidth": 1, "clip": true},
  "encoding": {
   "x": {"field": "t", "type": "quantitative", "axis": null},
   "y": {"field": "m", "type": "quantitative", "axis": null},
   "color": {"datum": "mild symptom", "type": "nominal"}
  }},
 {"mark": {"type": "line", "strokeWidth": 1, "clip": true},
  "encoding": {
   "x": {"field": "t", "type": "quantitative", "axis": null},
   "y": {"field": "s", "type": "quantitative", "axis": null},
   "color": {"datum": "severse cases", "type": "nominal"}
  }}
],
"resolve": {"axis": {"x": "independent", "y": "independent"}}
}
